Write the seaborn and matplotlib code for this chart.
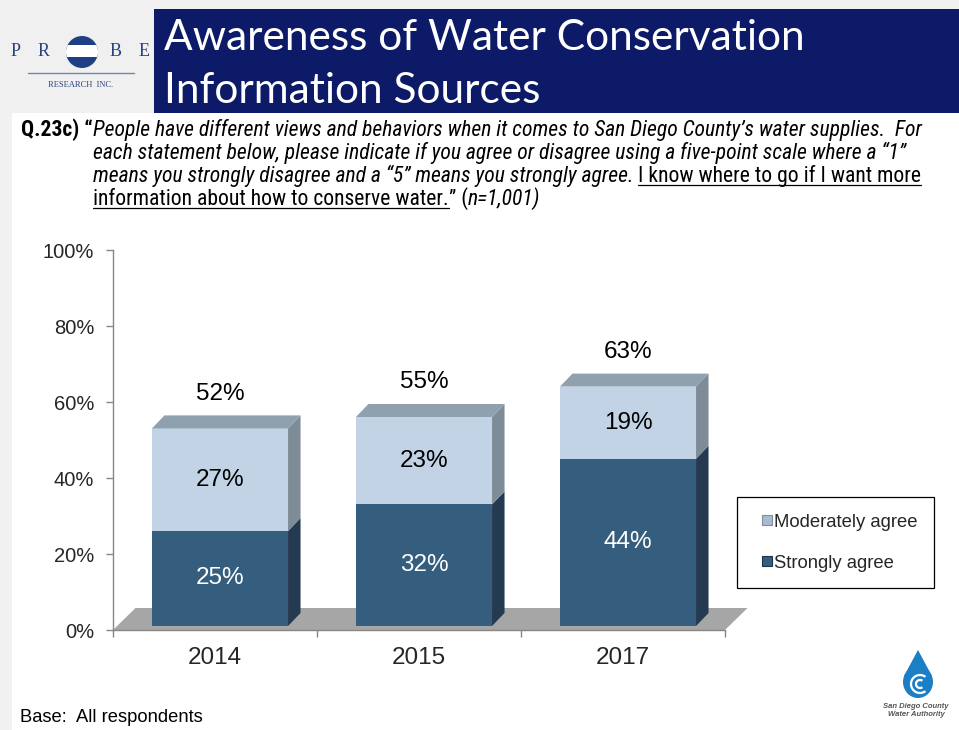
import matplotlib
matplotlib.use("Agg")
import matplotlib.pyplot as plt
import matplotlib.patches as mpatches
import matplotlib.transforms as mtransforms
from matplotlib import font_manager
from matplotlib.lines import Line2D
import seaborn as sns

# ---- data ----
years = ["2014", "2015", "2017"]
strongly = [25, 32, 44]
moderately = [27, 23, 19]
series_names = ["Moderately agree", "Strongly agree"]
yticks = [0, 20, 40, 60, 80, 100]

totals = [s + m for s, m in zip(strongly, moderately)]

# ---- colours ----
NAVY = "#0c1a68"
DARK_FRONT = "#345d7e"
DARK_SIDE = "#243a51"
LIGHT_FRONT = "#c1d3e5"
LIGHT_SIDE = "#7e8c97"
TOP_FACE = "#8fa0ae"
FLOOR = "#a6a6a6"
AXIS_GRAY = "#868686"

W, H = 959, 730
DPI = 100

sns.set_theme(style="white")
plt.rcParams["font.family"] = ["Liberation Sans", "DejaVu Sans"]

ttf = font_manager.fontManager.ttflist
avail = {f.name for f in ttf}


def pick(*names):
    for n in names:
        if n in avail:
            return n
    return "DejaVu Sans"


# a narrow face for the question block, if one is installed
NARROW = None
for cand in ("Liberation Sans Narrow", "Arial Narrow", "Roboto Condensed",
             "Open Sans Condensed", "Noto Sans Condensed"):
    if cand in avail:
        NARROW = (cand, "normal")
        break
if NARROW is None:
    NARROW = ("Liberation Sans", "normal")

TITLE_FONT = pick("Lato", "Open Sans", "Noto Sans")

fig = plt.figure(figsize=(W / DPI, H / DPI), dpi=DPI)
fig.patch.set_facecolor("white")


def fx(x):
    return x / W


def fy(y):
    return 1 - y / H


# ---- page frame and header ----
fig.add_artist(mpatches.Rectangle((0, 0), fx(12), 1, transform=fig.transFigure,
                                  facecolor="#f1f1f1", edgecolor="none", zorder=0))
fig.add_artist(mpatches.Rectangle((0, fy(9)), 1, fy(0) - fy(9), transform=fig.transFigure,
                                  facecolor="#f1f1f1", edgecolor="none", zorder=0))
fig.add_artist(mpatches.Rectangle((0, fy(113)), fx(154), fy(9) - fy(113), transform=fig.transFigure,
                                  facecolor="#f0f0f0", edgecolor="none", zorder=0))
fig.add_artist(mpatches.Rectangle((fx(154), fy(113)), 1 - fx(154), fy(9) - fy(113),
                                  transform=fig.transFigure, facecolor=NAVY,
                                  edgecolor="none", zorder=1))
fig.text(fx(164), fy(38), "Awareness of Water Conservation", color="white",
         fontsize=30.5, family=TITLE_FONT, va="center", ha="left")
fig.text(fx(164), fy(91), "Information Sources", color="white",
         fontsize=30.5, family=TITLE_FONT, va="center", ha="left")

# Probe Research logo
LOGO = "#2b4280"
for ch, x in [("P", 16), ("R", 44), ("B", 116), ("E", 144)]:
    fig.text(fx(x), fy(52), ch, color=LOGO, fontsize=13, family="Liberation Serif",
             ha="center", va="center")
cx, cy, r = fx(82), fy(52), 16
circ = mpatches.Ellipse((cx, cy), 2 * r / W, 2 * r / H, transform=fig.transFigure,
                        facecolor="#1f3f85", edgecolor="none", zorder=2)
fig.add_artist(circ)
band = mpatches.Rectangle((fx(60), fy(57)), fx(46), fy(45) - fy(57),
                          transform=fig.transFigure, facecolor="white",
                          edgecolor="none", zorder=3)
band.set_clip_path(circ)
fig.add_artist(band)
fig.add_artist(Line2D([fx(28), fx(134)], [fy(73), fy(73)], transform=fig.transFigure,
                      color="#6f86b5", lw=1))
fig.text(fx(81), fy(85), "RESEARCH  INC.", color=LOGO, fontsize=6,
         family="Liberation Serif", ha="center", va="center")

# ---- question text with underlined parts ----
fig.canvas.draw()
renderer = fig.canvas.get_renderer()


def advance(txt, **kw):
    probe = fig.text(0, 0, txt + "|", **kw)
    bar = fig.text(0, 0, "|", **kw)
    w = probe.get_window_extent(renderer).width - bar.get_window_extent(renderer).width
    probe.remove()
    bar.remove()
    return w


LINE1 = ("People have different views and behaviors when it comes to San Diego "
         "County\u2019s water supplies.  For")
# size the block so its first line spans the text column
base_kw = dict(family=NARROW[0], stretch=NARROW[1], style="italic")
QSIZE = 12.6 * 829.0 / advance(LINE1, fontsize=12.6, **base_kw)


def write_line(x, y, pieces):
    for txt, style, weight, under in pieces:
        kw = dict(fontsize=QSIZE, family=NARROW[0], stretch=NARROW[1], style=style,
                  weight=weight, color="black")
        fig.text(fx(x), fy(y), txt, va="baseline", ha="left", **kw)
        w = advance(txt, **kw)
        if under:
            fig.add_artist(Line2D([fx(x), fx(x + w)], [fy(y + 2.5), fy(y + 2.5)],
                                  transform=fig.transFigure, color="black", lw=0.9))
        x += w


q0 = advance("Q.23c) \u201c", fontsize=QSIZE, family=NARROW[0], stretch=NARROW[1],
             weight="bold")
write_line(93 - q0, 136, [("Q.23c) \u201c", "normal", "bold", False),
                          (LINE1, "italic", "normal", False)])
write_line(93, 159, [("each statement below, please indicate if you agree or disagree using "
                      "a five-point scale where a \u201c1\u201d", "italic", "normal", False)])
write_line(93, 182, [("means you strongly disagree and a \u201c5\u201d means you strongly agree. ",
                      "italic", "normal", False),
                     ("I know where to go if I want more", "normal", "normal", True)])
write_line(93, 205, [("information about how to conserve water.", "normal", "normal", True),
                     ("\u201d (", "normal", "normal", False),
                     ("n=1,001)", "italic", "normal", False)])

fig.text(fx(20), fy(717), "Base:  All respondents", fontsize=13.2, va="center",
         ha="left", color="black")

# ---- chart ----
ax = fig.add_axes([fx(113), fy(630), fx(725) - fx(113), fy(250) - fy(630)])
ax.set_facecolor("none")

BAR_W = 0.667
sns.barplot(x=years, y=totals, color=LIGHT_FRONT, saturation=1, width=BAR_W,
            ax=ax, zorder=3, linewidth=0)
sns.barplot(x=years, y=strongly, color=DARK_FRONT, saturation=1, width=BAR_W,
            ax=ax, zorder=3, linewidth=0)

ax.set_xlim(-0.5, 2.5)
ax.set_ylim(0, 100)
ax.set_yticks(yticks)
ax.set_yticklabels([f"{v}%" for v in yticks])
ax.set_xticks(range(len(years)))
ax.set_xticklabels(years)
ax.set_xticks([-0.5, 0.5, 1.5, 2.5], minor=True)
ax.tick_params(axis="y", length=5, width=1, color=AXIS_GRAY, pad=8.5,
               labelsize=14.5, left=True)
ax.tick_params(axis="x", which="major", length=0, pad=12.5, labelsize=17.5)
ax.tick_params(axis="x", which="minor", length=5, width=1, color=AXIS_GRAY,
               bottom=True, direction="out")
ax.set_xlabel("")
ax.set_ylabel("")
for s in ["top", "right"]:
    ax.spines[s].set_visible(False)
for s in ["left", "bottom"]:
    ax.spines[s].set_color(AXIS_GRAY)
    ax.spines[s].set_linewidth(1)

# 3-D look: bars set back into the floor, with side and top faces
BAR_SHIFT = (5, 4)           # pixels, right and up
BAR_DEPTH = (12.5, 13)
FLOOR_DEPTH = (22.5, 22)
shift = mtransforms.ScaledTranslation(BAR_SHIFT[0] / DPI, BAR_SHIFT[1] / DPI,
                                      fig.dpi_scale_trans)
for p in ax.patches:
    p.set_transform(ax.transData + shift)

ident = mtransforms.IdentityTransform()
T = ax.transData


def disp(x, y, dx=0.0, dy=0.0):
    px, py = T.transform((x, y))
    return (px + dx, py + dy)


fl = [disp(-0.5, 0), disp(2.5, 0),
      disp(2.5, 0, *FLOOR_DEPTH), disp(-0.5, 0, *FLOOR_DEPTH)]
ax.add_patch(mpatches.Polygon(fl, closed=True, transform=ident, facecolor=FLOOR,
                              edgecolor="none", zorder=1, clip_on=False))

sx, sy = BAR_SHIFT
ddx, ddy = BAR_DEPTH
for i in range(len(years)):
    x0, x1 = i - BAR_W / 2, i + BAR_W / 2
    segs = [(0, strongly[i], DARK_SIDE), (strongly[i], totals[i], LIGHT_SIDE)]
    for lo, hi, col in segs:
        side = [disp(x1, lo, sx, sy), disp(x1, hi, sx, sy),
                disp(x1, hi, sx + ddx, sy + ddy), disp(x1, lo, sx + ddx, sy + ddy)]
        ax.add_patch(mpatches.Polygon(side, closed=True, transform=ident,
                                      facecolor=col, edgecolor="none", zorder=4,
                                      clip_on=False))
    top = [disp(x0, totals[i], sx, sy), disp(x1, totals[i], sx, sy),
           disp(x1, totals[i], sx + ddx, sy + ddy), disp(x0, totals[i], sx + ddx, sy + ddy)]
    ax.add_patch(mpatches.Polygon(top, closed=True, transform=ident,
                                  facecolor=TOP_FACE, edgecolor="none", zorder=4,
                                  clip_on=False))

# value labels
lab_tr = ax.transData + shift
for i in range(len(years)):
    ax.text(i, strongly[i] / 2, f"{strongly[i]}%", transform=lab_tr, ha="center",
            va="center", fontsize=17.5, color="white", zorder=6)
    ax.text(i, strongly[i] + moderately[i] / 2, f"{moderately[i]}%", transform=lab_tr,
            ha="center", va="center", fontsize=17.5, color="black", zorder=6)
    ax.annotate(f"{totals[i]}%", (i, totals[i]), xycoords=lab_tr,
                xytext=(0, 25), textcoords="offset points", ha="center",
                va="center", fontsize=17.5, color="black", zorder=6,
                annotation_clip=False)

# legend
handles = [Line2D([], [], linestyle="none", marker="s", markersize=7.5,
                  markerfacecolor=c, markeredgecolor=e, markeredgewidth=0.8)
           for c, e in [("#a9bccf", "#7f8f9e"), (DARK_FRONT, "#1f3347")]]
leg = fig.legend(handles, series_names, loc="upper left",
                 bbox_to_anchor=(fx(737), fy(497)), bbox_transform=fig.transFigure,
                 frameon=True, fancybox=False, framealpha=1, edgecolor="black",
                 fontsize=13.3, handlelength=1.4, handletextpad=-0.3,
                 labelspacing=1.3, borderpad=0.9, borderaxespad=0)
leg.get_frame().set_linewidth(0.9)

# San Diego County Water Authority mark
drop_c = (fx(918), fy(682))
drop = mpatches.Ellipse(drop_c, 30 / W, 32 / H, transform=fig.transFigure,
                        facecolor="#1b7fc6", edgecolor="none")
fig.add_artist(drop)
tip = mpatches.Polygon([(fx(904), fy(676)), (fx(932), fy(676)), (fx(918), fy(650))],
                       closed=True, transform=fig.transFigure, facecolor="#1b7fc6",
                       edgecolor="none")
fig.add_artist(tip)
for rr in (9, 4):
    fig.add_artist(mpatches.Arc((fx(920), fy(684)), 2 * rr / W, 2 * rr / H, theta1=60,
                                theta2=300, transform=fig.transFigure, color="white",
                                lw=1.6))
fig.text(fx(916), fy(706), "San Diego County", fontsize=5.5, style="italic",
         weight="bold", color="#555555", ha="center", va="center")
fig.text(fx(916), fy(715), "Water Authority", fontsize=5.5, style="italic",
         weight="bold", color="#555555", ha="center", va="center")

fig.savefig("out.png", dpi=DPI)
